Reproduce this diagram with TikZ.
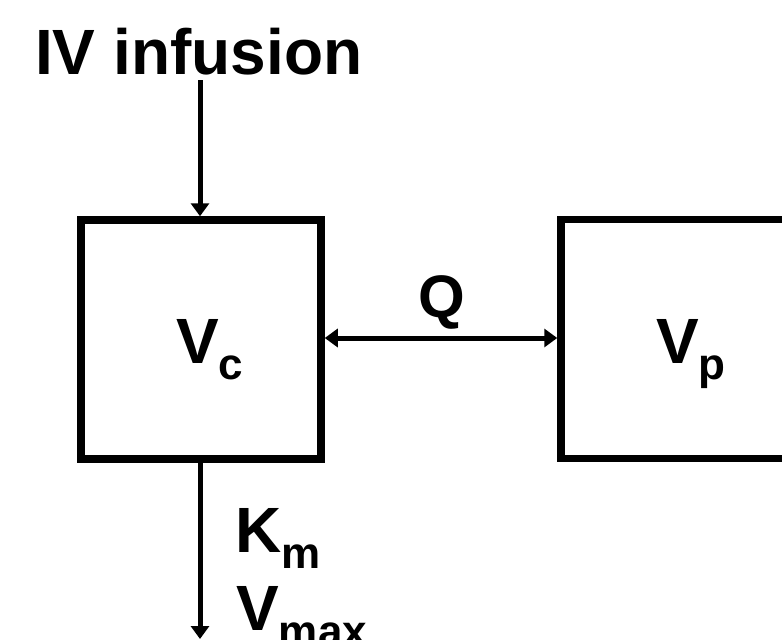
\documentclass[tikz,border=0pt]{standalone}
\usepackage{fontspec}
\setmainfont{Liberation Sans}
\usetikzlibrary{arrows.meta}
\newcommand{\bigtxt}{\fontsize{64}{64}\selectfont\bfseries}
\newcommand{\subtxt}[1]{\raisebox{-16pt}{\fontsize{44}{44}\selectfont\bfseries #1}}
\begin{document}
\begin{tikzpicture}[x=1pt,y=-1pt,
  box/.style={draw,line width=7.5pt,minimum width=240pt,minimum height=239pt,inner sep=0pt},
  lbl/.style={inner sep=0pt,anchor=base west,font=\bigtxt},
  arr/.style={line width=5pt,-{Triangle[length=13pt,width=18pt]}},
  darr/.style={line width=5pt,{Triangle[length=13pt,width=18pt]}-{Triangle[length=13pt,width=18pt]}}]
\clip (0,0) rectangle (782,640);
\node[box] (cbox) at (201,339.5) {};
\node[box] (pbox) at (681,339) {};
\node[lbl] (iv) at (35,74) {IV infusion};
\node[lbl] (vc) at (176,363) {V\subtxt{c}};
\node[lbl] (vp) at (656,363) {V\subtxt{p}};
\node[lbl,anchor=base,font=\fontsize{60}{60}\selectfont\bfseries] (q) at (442,317) {Q};
\node[lbl] (km) at (235,552) {K\subtxt{m}};
\node[lbl] (vmax) at (236,630) {V\subtxt{max}};
\coordinate (ivstart) at (200,80);
\coordinate (elim) at (200,639);
\draw[arr] (ivstart) -- (ivstart |- cbox.north);
\draw[arr] (ivstart |- cbox.south) -- (elim);
\draw[darr] (cbox.east |- 0,338) -- (pbox.west |- 0,338);
\end{tikzpicture}
\end{document}
